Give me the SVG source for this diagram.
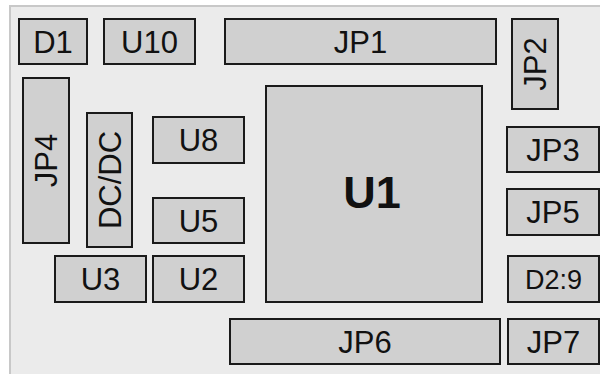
<svg xmlns="http://www.w3.org/2000/svg" width="600" height="374" viewBox="0 0 600 374">
<style>
.b{fill:#d0d0d0;stroke:#1a1a1a;stroke-width:2}
.t{font-family:"Liberation Sans",Arial,sans-serif;font-size:31px;fill:#111;text-anchor:middle}
.s{font-size:27px}
.u1{font-weight:bold;font-size:45px}
</style>
<rect x="0" y="0" width="600" height="374" fill="#ffffff"/>
<rect x="10" y="6" width="592" height="370" fill="#ebebeb" stroke="#c8c8c8" stroke-width="2"/>
<g id="D1"><rect class="b" x="19" y="19" width="68" height="45"/><text class="t" x="53" y="52.5">D1</text></g>
<g id="U10"><rect class="b" x="104" y="19" width="91" height="45"/><text class="t" x="149.5" y="52.5">U10</text></g>
<g id="JP1"><rect class="b" x="225" y="19" width="271" height="45"/><text class="t" x="360.5" y="52.5">JP1</text></g>
<g id="JP2"><rect class="b" x="512" y="19" width="46" height="90"/><text class="t" transform="translate(546,64) rotate(-90)" x="0" y="0">JP2</text></g>
<g id="JP4"><rect class="b" x="23" y="78" width="46" height="165"/><text class="t" transform="translate(57,160.5) rotate(-90)" x="0" y="0">JP4</text></g>
<g id="DCDC"><rect class="b" x="87" y="113" width="45" height="134"/><text class="t" transform="translate(120.5,180) rotate(-90)" x="0" y="0">DC/DC</text></g>
<g id="U8"><rect class="b" x="153" y="117" width="91" height="46"/><text class="t" x="198.5" y="151">U8</text></g>
<g id="U5"><rect class="b" x="153" y="198" width="91" height="45"/><text class="t" x="198.5" y="231.5">U5</text></g>
<g id="U3"><rect class="b" x="55" y="256" width="91" height="46"/><text class="t" x="100.5" y="290">U3</text></g>
<g id="U2"><rect class="b" x="153" y="256" width="91" height="46"/><text class="t" x="198.5" y="290">U2</text></g>
<g id="U1"><rect class="b" x="266" y="86" width="216" height="216"/><text class="t u1" x="372" y="208">U1</text></g>
<g id="JP3"><rect class="b" x="507" y="127" width="92" height="45"/><text class="t" x="553" y="160.5">JP3</text></g>
<g id="JP5"><rect class="b" x="507" y="189" width="92" height="46"/><text class="t" x="553" y="223">JP5</text></g>
<g id="D29"><rect class="b" x="508" y="256" width="91" height="46"/><text class="t s" x="553.5" y="288.5">D2:9</text></g>
<g id="JP6"><rect class="b" x="230" y="319" width="270" height="45"/><text class="t" x="365" y="352.5">JP6</text></g>
<g id="JP7"><rect class="b" x="508" y="319" width="91" height="45"/><text class="t" x="553.5" y="352.5">JP7</text></g>
<g id="connectors"></g>
</svg>
